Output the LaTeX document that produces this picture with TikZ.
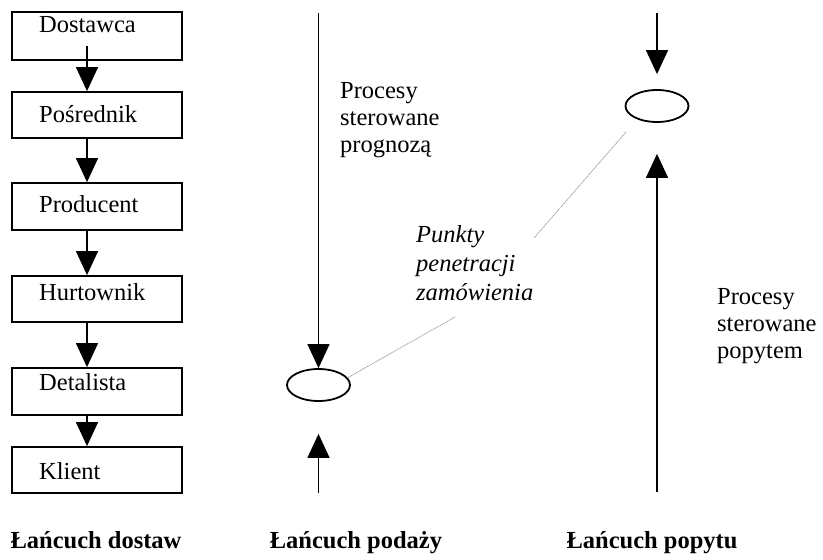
\documentclass[tikz,border=0pt]{standalone}
\usepackage{fontspec}
\setmainfont{Liberation Serif}
\usetikzlibrary{arrows.meta,shapes.geometric,calc}
\begin{document}
\begin{tikzpicture}[x=1pt,y=-1pt,
  every node/.style={inner sep=0pt, font=\fontsize{24.5}{27}\selectfont},
  box/.style={draw, line width=1.8pt, minimum width=170pt, minimum height=#1},
  flow/.style={line width=1.4pt, -{Triangle[width=22pt,length=24pt]}},
  ell/.style={draw, ellipse, line width=1.8pt, minimum width=63pt, minimum height=32pt},
  pointer/.style={draw=gray!75, line width=0.8pt, dash pattern=on 1.3pt off 0.7pt},
  txt/.style={anchor=base west, align=left},
  title/.style={anchor=base, font=\fontsize{24.5}{27}\selectfont\bfseries}]
\useasboundingbox (0,0) rectangle (823,560);

% left column: supply chain boxes
\node[box=48pt] (dost) at (97,36) {};
\node[box=46pt] (posr) at (97,115) {};
\node[box=47pt] (prod) at (97,206.5) {};
\node[box=46pt] (hurt) at (97,299) {};
\node[box=47pt] (det)  at (97,391.5) {};
\node[box=46pt] (kli)  at (97,470) {};

\node[txt] (tdost) at (39,32) {Dostawca};
\node[txt] (tposr) at (39,122) {Pośrednik};
\node[txt] (tprod) at (39,212) {Producent};
\node[txt] (thurt) at (39,300) {Hurtownik};
\node[txt] (tdet)  at (39,390) {Detalista};
\node[txt] (tkli)  at (39,479) {Klient};

\coordinate (ax) at (87,0);
\draw[flow] ($(dost.south -| ax)+(0,-15)$) -- (posr.north -| ax);
\draw[flow] (posr.south -| ax) -- (prod.north -| ax);
\draw[flow] (prod.south -| ax) -- (hurt.north -| ax);
\draw[flow] (hurt.south -| ax) -- (det.north -| ax);
\draw[flow] (det.south -| ax) -- (kli.north -| ax);

% middle column
\node[ell] (midE) at (318.5,385) {};
\coordinate (mtop) at (318.5,13);
\coordinate (mbot) at (318.5,493);
\draw[flow] (mtop) -- (midE.north);
\draw[flow, shorten >=32pt] (mbot) -- (midE.south);
\node[txt] (prog) at (340,152) {Procesy\\sterowane\\prognozą};

% right column
\node[ell] (rightE) at (657,106) {};
\coordinate (rtop) at (657,13);
\coordinate (rbot) at (657,492);
\draw[flow, shorten >=15pt] (rtop) -- (rightE.north);
\draw[flow, shorten >=31pt] (rbot) -- (rightE.south);
\node[txt] (pop) at (717,358) {Procesy\\sterowane\\popytem};

% order penetration points
\node[txt, font=\fontsize{24.5}{29}\selectfont\itshape] (pen) at (416,300) {Punkty\\penetracji\\zamówienia};
\coordinate (p1) at (455,317);
\coordinate (q1) at (626,132);
\coordinate (q2) at (534,238);
\draw[pointer] (midE.14) -- (p1);
\draw[pointer] (q1) -- (q2);

% titles
\node[title] (l1) at (96,548) {Łańcuch dostaw};
\node[title] (l2) at (356,548) {Łańcuch podaży};
\node[title] (l3) at (652,548) {Łańcuch popytu};
\end{tikzpicture}
\end{document}
